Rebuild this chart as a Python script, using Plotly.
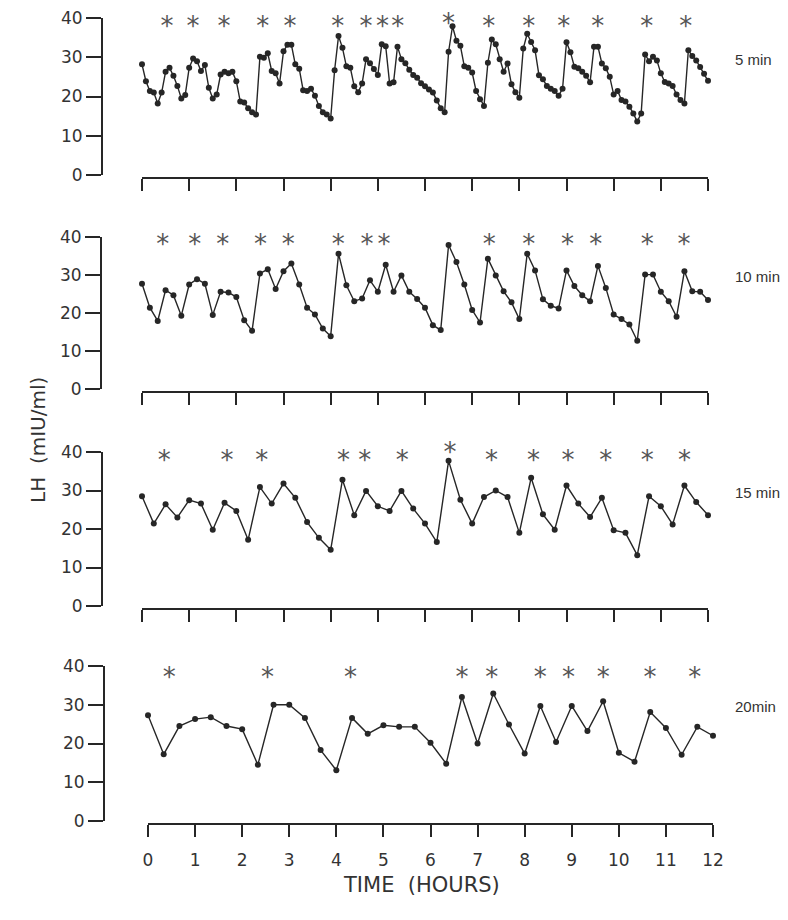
import plotly.graph_objects as go

# LH concentrations (mIU/ml) sampled every 5, 10, 15 and 20 minutes over 12 hours
lh_5min = [28.2, 23.9, 21.4, 21.0, 18.2, 21.0, 26.3, 27.3, 25.3, 22.7, 19.5, 20.4,
           27.3, 29.7, 29.0, 26.5, 28.0, 22.2, 19.5, 20.5, 25.6, 26.3, 25.9, 26.3,
           23.9, 18.7, 18.5, 17.0, 16.0, 15.4, 30.1, 29.9, 31.0, 26.5, 25.9, 23.3,
           31.5, 33.2, 33.2, 28.2, 27.1, 21.6, 21.4, 22.0, 20.2, 17.6, 16.0, 15.4,
           14.4, 26.7, 35.4, 32.4, 27.7, 27.3, 22.6, 21.1, 23.3, 29.5, 28.5, 27.0,
           25.5, 33.3, 32.8, 23.3, 23.6, 32.7, 29.5, 28.5, 26.8, 25.5, 24.8, 23.4,
           22.6, 21.8, 21.0, 19.0, 17.0, 16.0, 31.4, 37.9, 34.2, 32.9, 27.7, 27.3,
           26.1, 21.4, 19.3, 17.6, 28.6, 34.5, 33.3, 29.5, 26.3, 28.4, 23.1, 21.1,
           19.7, 32.2, 36.0, 33.9, 31.8, 25.4, 24.4, 22.7, 22.0, 21.4, 20.2, 22.0,
           33.8, 31.3, 27.6, 27.2, 26.3, 25.3, 23.6, 32.7, 32.7, 28.4, 27.2, 25.0,
           20.5, 21.4, 19.1, 18.7, 17.4, 15.7, 13.6, 15.7, 30.7, 29.0, 30.1, 29.2,
           25.9, 23.7, 23.3, 22.7, 20.5, 19.1, 18.2, 31.8, 30.3, 29.2, 27.5, 25.8,
           24.0]
lh_10min = [27.7, 21.4, 17.9, 26.0, 24.7, 19.3, 27.5, 28.9, 27.7, 19.5, 25.6, 25.4,
            24.2, 18.1, 15.3, 30.4, 31.5, 26.3, 31.0, 33.0, 27.5, 21.4, 19.6, 15.9,
            13.9, 35.6, 27.3, 23.1, 23.8, 28.6, 25.6, 32.7, 25.6, 29.9, 25.6, 23.7,
            21.4, 16.8, 15.5, 37.9, 33.4, 27.5, 20.8, 17.5, 34.3, 29.9, 25.7, 22.8,
            18.4, 35.6, 31.2, 23.6, 21.9, 21.2, 31.2, 27.1, 24.7, 23.1, 32.4, 26.6,
            19.6, 18.4, 17.0, 12.7, 30.1, 30.1, 25.6, 23.1, 19.0, 31.0, 25.7, 25.6,
            23.4]
lh_15min = [28.5, 21.4, 26.4, 23.0, 27.5, 26.6, 19.8, 26.8, 24.7, 17.2, 30.9, 26.6,
            31.8, 28.1, 21.8, 17.7, 14.6, 32.8, 23.6, 29.9, 25.9, 24.7, 29.9, 25.3,
            21.4, 16.6, 37.7, 27.6, 21.4, 28.3, 30.0, 28.3, 19.0, 33.3, 23.8, 19.8,
            31.3, 26.6, 23.1, 28.1, 19.7, 19.0, 13.2, 28.5, 25.9, 21.2, 31.3, 27.0,
            23.6]
lh_20min = [27.3, 17.2, 24.5, 26.3, 26.8, 24.5, 23.7, 14.5, 30.0, 30.0, 26.6, 18.3,
            13.1, 26.6, 22.5, 24.7, 24.3, 24.3, 20.2, 14.8, 32.0, 20.0, 32.9, 24.9,
            17.4, 29.7, 20.4, 29.7, 23.2, 30.9, 17.6, 15.3, 28.1, 24.0, 17.1, 24.3,
            22.0]

# pulses marked with an asterisk (hours) and the height the asterisk sits at
stars_5min = [0.53, 1.08, 1.74, 2.56, 3.14, 4.15, 4.75, 5.1, 5.42, 6.5, 7.35, 8.2, 8.94, 9.66, 10.7, 11.53]
stars_5min_y = [37.3, 37.3, 37.3, 37.3, 37.3, 37.3, 37.3, 37.3, 37.3, 38.1, 37.3, 37.3, 37.3, 37.3, 37.3, 37.3]
stars_10min = [0.44, 1.12, 1.71, 2.51, 3.1, 4.16, 4.77, 5.13, 6.51, 7.36, 8.2, 9.02, 9.62, 10.71, 11.49]
stars_10min_y = [37.6, 37.6, 37.6, 37.6, 37.6, 37.6, 37.6, 37.6, 40.4, 37.6, 37.6, 37.6, 37.6, 37.6, 37.6]
stars_15min = [0.47, 1.8, 2.54, 4.27, 4.72, 5.52, 6.53, 7.41, 8.3, 9.03, 9.83, 10.71, 11.5]
stars_15min_y = [37.3, 37.3, 37.3, 37.3, 37.3, 37.3, 39.4, 37.3, 37.3, 37.3, 37.3, 37.3, 37.3]
stars_20min = [0.45, 2.54, 4.3, 6.67, 7.3, 8.33, 8.93, 9.67, 10.66, 11.61]
stars_20min_y = [36.6, 36.6, 36.6, 36.6, 36.6, 36.6, 36.6, 36.6, 36.6, 36.6]

panel_labels = ["5 min", "10 min", "15 min", "20min"]
intervals = [5, 10, 15, 20]
hour_ticks = list(range(0, 13))
lh_ticks = [0, 10, 20, 30, 40]

series = [lh_5min, lh_10min, lh_15min, lh_20min]
stars = [(stars_5min, stars_5min_y), (stars_10min, stars_10min_y),
         (stars_15min, stars_15min_y), (stars_20min, stars_20min_y)]

W, H = 788, 920
OFF = 8  # the page body adds an 8px margin around the figure
INK = "#262626"
FONT = "DejaVu Sans"


def px(x):
    return (x - OFF) / W


def py(y):
    return 1 - (y - OFF) / H


# pixel layout of each panel (page coords): y of 40, y of 0, x axis start/end, y axis x
panels = [
    dict(y40=18, y0=175, x0=142, x1=708, yax=102),
    dict(y40=237, y0=389, x0=142, x1=708, yax=101),
    dict(y40=452, y0=606, x0=142, x1=708, yax=102),
    dict(y40=666, y0=821, x0=148, x1=713, yax=104),
]

fig = go.Figure()
layout = {}
for k, (vals, (sx, sy), iv, p) in enumerate(zip(series, stars, intervals, panels)):
    n = "" if k == 0 else str(k + 1)
    t = [i * iv / 60 for i in range(len(vals))]
    fig.add_trace(go.Scatter(x=t, y=vals, mode="lines+markers", xaxis="x" + n, yaxis="y" + n,
                             line=dict(color=INK, width=1.4),
                             marker=dict(color=INK, size=6), cliponaxis=False,
                             showlegend=False, hoverinfo="skip"))
    fig.add_trace(go.Scatter(x=sx, y=sy, mode="text", text=["*"] * len(sx),
                             xaxis="x" + n, yaxis="y" + n, cliponaxis=False,
                             textfont=dict(family=FONT, size=26, color="#555"),
                             showlegend=False, hoverinfo="skip"))
    layout["xaxis" + n] = dict(
        domain=[px(p["x0"]), px(p["x1"])], range=[0, 12], anchor="free",
        position=py(p["y0"] + 3), showline=True, linecolor=INK, linewidth=2,
        ticks="outside", ticklen=12, tickwidth=2, tickcolor=INK, tickvals=hour_ticks,
        ticktext=[str(h) for h in hour_ticks], showticklabels=(k == 3),
        ticklabelstandoff=9, ticklabeloverflow="allow",
        tickfont=dict(family=FONT, size=17, color="#333"), automargin=False,
        showgrid=False, zeroline=False)
    layout["yaxis" + n] = dict(
        domain=[py(p["y0"]), py(p["y40"])], range=[0, 40], anchor="free",
        position=px(p["yax"]), showline=True, linecolor=INK, linewidth=2,
        ticks="outside", ticklen=15, tickwidth=2, tickcolor=INK, tickvals=lh_ticks,
        ticklabeloverflow="allow",
        tickfont=dict(family=FONT, size=17, color="#333"), automargin=False,
        showgrid=False, zeroline=False)
    fig.add_annotation(text=panel_labels[k], xref="paper", yref="y" + n,
                       x=px(733), y=29.5, xanchor="left", showarrow=False,
                       font=dict(family="Liberation Sans", size=15, color="#333"))

fig.add_annotation(text="TIME  (HOURS)", xref="paper", yref="paper", x=px(421),
                   y=py(899), showarrow=False,
                   font=dict(family=FONT, size=21, color="#333"))
fig.add_annotation(text="LH  (mIU/ml)", xref="paper", yref="paper", x=px(24),
                   y=py(440), textangle=-90, showarrow=False,
                   font=dict(family=FONT, size=20, color="#333"))

fig.update_layout(width=W, height=H, margin=dict(l=0, r=0, t=0, b=0, pad=0, autoexpand=False),
                  plot_bgcolor="white", paper_bgcolor="white", **layout)

fig.write_html("out.html")
